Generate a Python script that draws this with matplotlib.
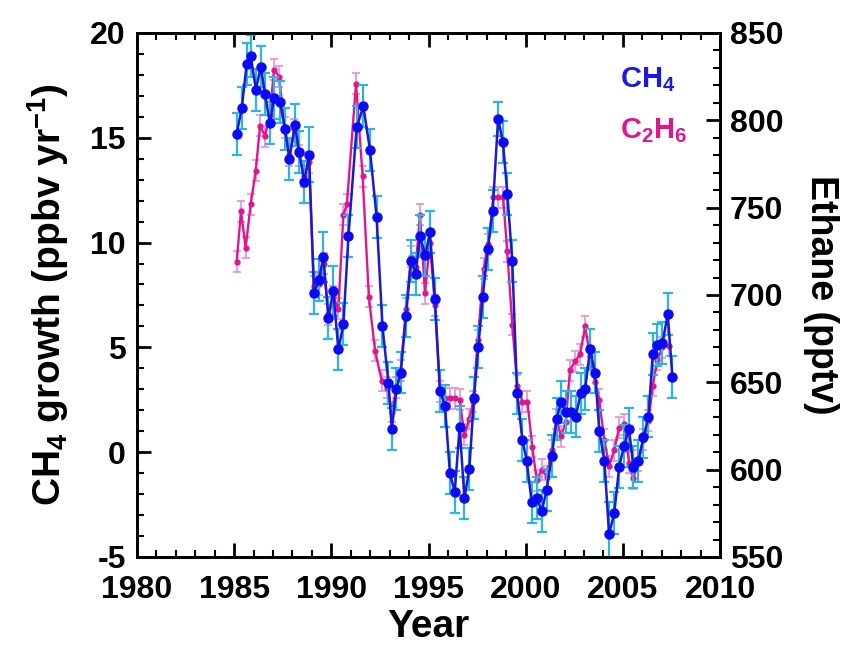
import numpy as np
import matplotlib
matplotlib.use('Agg')
import matplotlib.pyplot as plt
from matplotlib.ticker import MultipleLocator

plt.rcParams['font.family'] = ['Liberation Sans', 'DejaVu Sans']
plt.rcParams['font.weight'] = 'bold'
plt.rcParams['axes.labelweight'] = 'bold'
plt.rcParams['axes.unicode_minus'] = False
plt.rcParams['mathtext.fontset'] = 'custom'
plt.rcParams['mathtext.rm'] = 'Liberation Sans:bold'
plt.rcParams['mathtext.bf'] = 'Liberation Sans:bold'
plt.rcParams['mathtext.default'] = 'rm'

# CH4 growth rate (ppbv/yr)
ch4_year = [1985.13, 1985.39, 1985.64, 1985.85, 1986.12, 1986.37, 1986.58, 1986.84,
            1987.05, 1987.36, 1987.62, 1987.84, 1988.13, 1988.35, 1988.61, 1988.85,
            1989.11, 1989.35, 1989.59, 1989.85, 1990.10, 1990.36, 1990.62, 1990.88,
            1991.30, 1991.65, 1991.99, 1992.33, 1992.63, 1992.94, 1993.11, 1993.35,
            1993.57, 1993.84, 1994.10, 1994.34, 1994.56, 1994.84, 1995.07, 1995.33,
            1995.59, 1995.85, 1996.10, 1996.35, 1996.60, 1996.85, 1997.10, 1997.34,
            1997.56, 1997.79, 1998.05, 1998.30, 1998.58, 1998.83, 1999.06, 1999.31,
            1999.56, 1999.83, 2000.05, 2000.31, 2000.57, 2000.83, 2001.08, 2001.34,
            2001.60, 2001.82, 2002.06, 2002.32, 2002.58, 2002.83, 2003.06, 2003.31,
            2003.57, 2003.79, 2004.05, 2004.29, 2004.56, 2004.81, 2005.06, 2005.32,
            2005.54, 2005.80, 2006.06, 2006.32, 2006.54, 2006.78, 2007.04, 2007.31,
            2007.55]
ch4_growth = [15.2, 16.4, 18.5, 18.9, 17.3, 18.4, 17.1, 15.7,
              16.9, 16.7, 15.4, 14.0, 15.6, 14.3, 12.9, 14.2,
              7.6, 8.2, 9.3, 6.4, 7.7, 4.9, 6.1, 10.3,
              15.5, 16.5, 14.4, 11.2, 6.0, 3.3, 1.1, 3.0,
              3.8, 6.5, 9.1, 8.5, 10.3, 9.4, 10.5, 7.3,
              2.9, 2.2, -1.0, -1.9, 1.2, -2.2, -0.8, 2.6,
              5.0, 7.4, 9.7, 11.5, 15.9, 14.8, 12.3, 9.1,
              2.8, 0.6, -0.4, -2.4, -2.2, -2.8, -1.8, -0.2,
              1.6, 2.4, 1.9, 1.9, 1.7, 2.8, 3.0, 4.9,
              3.8, 1.0, -0.4, -3.9, -2.9, -0.7, 0.3, 1.1,
              -0.7, -0.4, 0.7, 1.7, 4.7, 5.1, 5.2, 6.6,
              3.6]
ch4_err = [1.0, 1.0, 1.0, 1.0, 1.0, 1.0, 1.0, 1.0,
           1.0, 1.0, 1.0, 1.0, 1.0, 1.0, 1.0, 1.3,
           1.0, 1.0, 1.2, 1.0, 1.2, 1.0, 1.0, 1.0,
           1.0, 1.0, 1.0, 1.0, 1.0, 1.0, 1.0, 1.0,
           1.0, 1.0, 1.0, 1.0, 1.0, 1.0, 1.0, 1.0,
           1.0, 1.0, 1.0, 1.0, 1.0, 1.0, 1.0, 1.0,
           1.0, 1.0, 1.0, 1.0, 0.8, 1.0, 1.0, 1.0,
           1.0, 1.0, 1.0, 1.0, 1.0, 1.0, 1.0, 1.0,
           1.0, 1.0, 1.0, 1.0, 1.0, 1.0, 1.0, 1.0,
           1.0, 1.0, 1.0, 1.5, 1.0, 1.0, 1.0, 1.0,
           1.0, 1.0, 1.0, 1.0, 1.0, 1.0, 1.0, 1.0,
           1.0]

# ethane (pptv)
c2h6_year = [1985.13, 1985.35, 1985.59, 1985.85, 1986.11, 1986.33, 1986.59, 1986.84,
             1987.05, 1987.31, 1987.60, 1987.84, 1988.10, 1988.35, 1988.60, 1988.85,
             1989.10, 1989.35, 1989.60, 1989.85, 1990.10, 1990.36, 1990.62, 1990.80,
             1991.27, 1991.61, 1991.93, 1992.25, 1992.59, 1992.88, 1993.11, 1993.35,
             1993.57, 1993.84, 1994.10, 1994.34, 1994.56, 1994.82, 1995.07, 1995.33,
             1995.59, 1995.85, 1996.10, 1996.35, 1996.60, 1996.85, 1997.10, 1997.30,
             1997.53, 1997.84, 1998.08, 1998.34, 1998.59, 1998.84, 1999.05, 1999.31,
             1999.57, 1999.83, 2000.09, 2000.34, 2000.57, 2000.83, 2001.08, 2001.34,
             2001.58, 2001.82, 2002.06, 2002.28, 2002.54, 2002.80, 2003.06, 2003.31,
             2003.57, 2003.78, 2004.05, 2004.29, 2004.55, 2004.81, 2005.06, 2005.32,
             2005.54, 2005.80, 2006.06, 2006.32, 2006.54, 2006.78, 2007.04, 2007.35]
c2h6_pptv = [719, 748, 727, 752, 771, 797, 791, 803,
             829, 825, 796, 780, 795, 780, 768, 776,
             705, 706, 718, 689, 699, 692, 746, 752,
             821, 768, 699, 668, 651, 647, 633, 647,
             657, 692, 722, 716, 746, 701, 730, 694,
             645, 641, 641, 641, 640, 620, 629, 639,
             674, 715, 729, 756, 756, 756, 725, 683,
             648, 639, 639, 613, 594, 600, 596, 611,
             629, 619, 627, 657, 662, 666, 682, 665,
             650, 640, 617, 602, 611, 624, 626, 604,
             595, 605, 617, 628, 648, 663, 670, 671]
c2h6_err = [6] * len(c2h6_pptv)

fig = plt.figure(figsize=(8.59, 6.49), dpi=100)
ax = fig.add_axes([0.1595, 0.1418, 0.6787, 0.8074])
ax2 = ax.twinx()
ax.set_zorder(ax2.get_zorder() + 1)
ax.patch.set_visible(False)

ax2.errorbar(c2h6_year, c2h6_pptv, yerr=c2h6_err, color='#e0168e', lw=1.7,
             marker='o', ms=3.5, mec='#e0168e', ecolor='#e894e4',
             elinewidth=1.3, capsize=3, capthick=1.3)
ax.errorbar(ch4_year, ch4_growth, yerr=ch4_err, color='#1a1ad0', lw=1.8,
            marker='o', ms=6.5, mfc='#0a0af5', mec='#0a0af5', ecolor='#2cb4e6',
            elinewidth=1.6, capsize=3.5, capthick=1.6)

ax.set_xlim(1980, 2010)
ax.set_ylim(-5, 20)
ax2.set_ylim(550, 850)

ax.xaxis.set_major_locator(MultipleLocator(5))
ax.xaxis.set_minor_locator(MultipleLocator(1))
ax.yaxis.set_major_locator(MultipleLocator(5))
ax.yaxis.set_minor_locator(MultipleLocator(1))
ax2.yaxis.set_major_locator(MultipleLocator(50))
ax2.yaxis.set_minor_locator(MultipleLocator(10))

ax.tick_params(which='both', direction='in', top=True, right=False, labelsize=23, width=2)
ax.tick_params(which='major', length=10)
ax.tick_params(which='minor', length=5, width=1.5)
ax.tick_params(axis='x', which='major', pad=13)
ax.tick_params(axis='y', which='major', pad=8)
ax2.tick_params(which='both', direction='in', labelsize=23, width=2)
ax2.tick_params(which='major', length=10, pad=7)
ax2.tick_params(which='minor', length=5, width=1.5)
for a in (ax, ax2):
    for s in a.spines.values():
        s.set_linewidth(2)

ax.set_xlabel('Year', fontsize=28, labelpad=3)
ax.set_ylabel('CH$_4$ growth (ppbv yr$^{-1}$)', fontsize=28, labelpad=14)
ax2.set_ylabel('Ethane (pptv)', fontsize=27, rotation=270, labelpad=40)

ax.text(0.828, 0.897, 'CH$_4$', transform=ax.transAxes, color='#1a1ae0',
        fontsize=21, va='baseline')
ax.text(0.828, 0.80, 'C$_2$H$_6$', transform=ax.transAxes, color='#e0168e',
        fontsize=21, va='baseline')

plt.savefig('out.png', dpi=100)
